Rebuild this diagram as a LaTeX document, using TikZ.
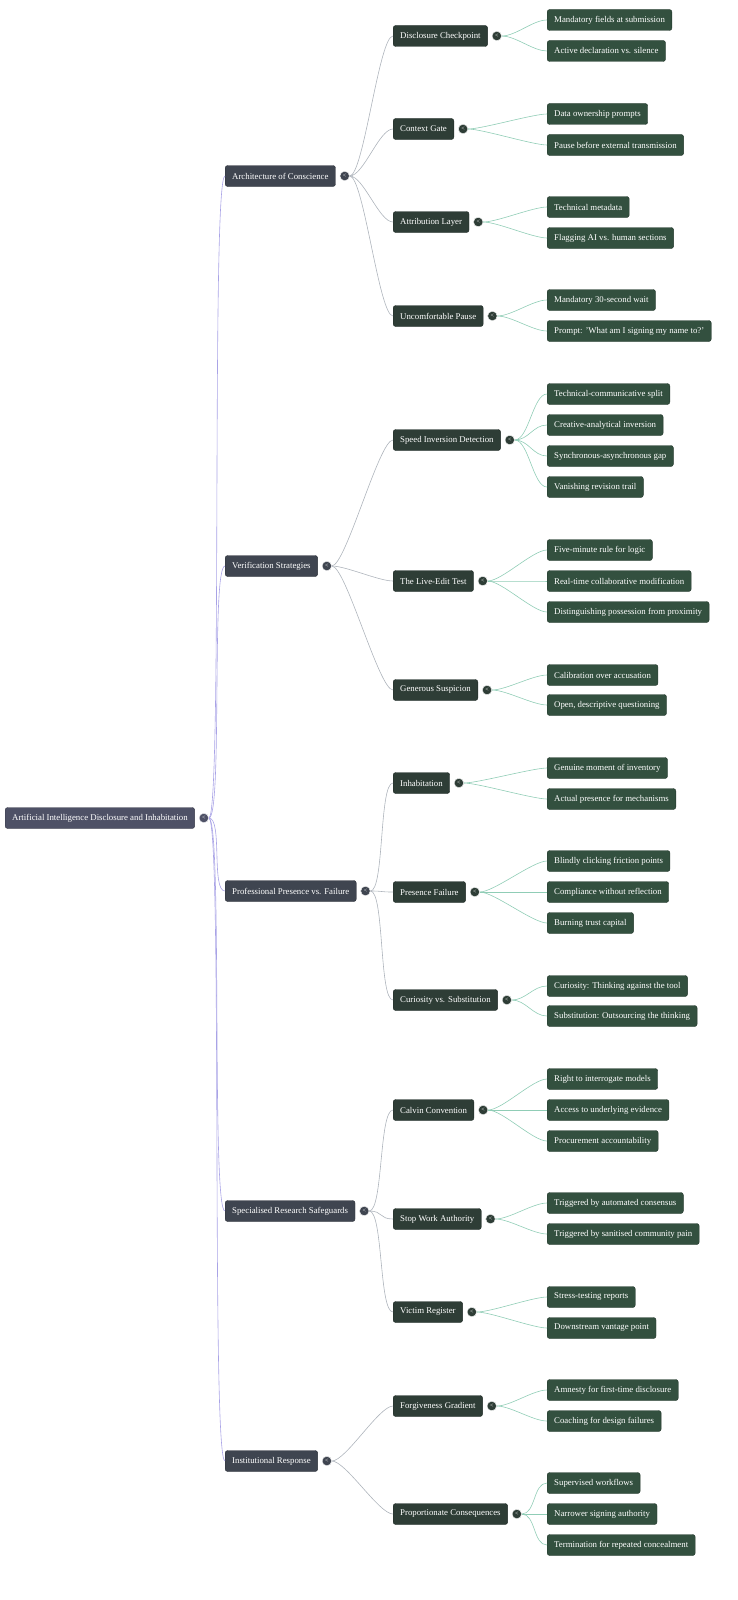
\documentclass[tikz,border=0pt]{standalone}
\usepackage{fontspec}
\setmainfont{Liberation Serif}
\begin{document}
\begin{tikzpicture}[x=1pt,y=-1pt,
 base/.style={rounded corners=2.5pt,text=white,font=\fontsize{8.8}{10}\selectfont,inner xsep=7pt,minimum height=21pt,anchor=west,draw=#1!70!black,fill=#1},
 r/.style={base=rootc},
 a/.style={base=lonec},
 b/.style={base=ltwoc},
 c/.style={base=lthreec},
 tog/.style={circle,fill=#1,draw=white,line width=0.4pt,inner sep=0pt,minimum size=9.5pt,font=\fontsize{6}{6}\selectfont,text=white},
 e1/.style={draw=edgeA,line width=0.6pt},
 e2/.style={draw=edgeB,line width=0.6pt},
 e3/.style={draw=edgeC,line width=0.6pt}]
\definecolor{rootc}{HTML}{4E5166}
\definecolor{lonec}{HTML}{3F4550}
\definecolor{ltwoc}{HTML}{2E3D36}
\definecolor{lthreec}{HTML}{33503F}
\definecolor{edgeA}{HTML}{A9A3E6}
\definecolor{edgeB}{HTML}{AEB4BC}
\definecolor{edgeC}{HTML}{90CDB6}
\useasboundingbox (0,0) rectangle (738,1600);
\newcommand\conn[3]{\draw[#1] (#2.east) .. controls ([xshift=14pt]#2.east) and ([xshift=-14pt]#3.west) .. (#3.west);}
\node[r] (R) at (5,818) {Artificial Intelligence Disclosure and Inhabitation};
\node[tog=rootc] (tR) at ([xshift=9pt]R.east) {<};
% level 1
\node[a] (A1) at (225,176) {Architecture of Conscience};
\node[a] (A2) at (225,566) {Verification Strategies};
\node[a] (A3) at (225,891) {Professional Presence vs. Failure};
\node[a] (A4) at (225,1211) {Specialised Research Safeguards};
\node[a] (A5) at (225,1461) {Institutional Response};
\foreach \n in {A1,A2,A3,A4,A5}{
 \node[tog=lonec] (t\n) at ([xshift=9pt]\n.east) {<};
 \conn{e1}{tR}{\n}}
% level 2
\node[b] (B1) at (393,36) {Disclosure Checkpoint};
\node[b] (B2) at (393,129) {Context Gate};
\node[b] (B3) at (393,222) {Attribution Layer};
\node[b] (B4) at (393,316) {Uncomfortable Pause};
\node[b] (B5) at (393,440) {Speed Inversion Detection};
\node[b] (B6) at (393,581) {The Live-Edit Test};
\node[b] (B7) at (393,690) {Generous Suspicion};
\node[b] (B8) at (393,783) {Inhabitation};
\node[b] (B9) at (393,892) {Presence Failure};
\node[b] (B10) at (393,1000) {Curiosity vs. Substitution};
\node[b] (B11) at (393,1110) {Calvin Convention};
\node[b] (B12) at (393,1219) {Stop Work Authority};
\node[b] (B13) at (393,1312) {Victim Register};
\node[b] (B14) at (393,1406) {Forgiveness Gradient};
\node[b] (B15) at (393,1514) {Proportionate Consequences};
\foreach \p/\n in {A1/B1,A1/B2,A1/B3,A1/B4,A2/B5,A2/B6,A2/B7,A3/B8,A3/B9,A3/B10,A4/B11,A4/B12,A4/B13,A5/B14,A5/B15}{
 \conn{e2}{t\p}{\n}}
\foreach \n in {B1,B2,B3,B4,B5,B6,B7,B8,B9,B10,B11,B12,B13,B14,B15}{
 \node[tog=ltwoc] (t\n) at ([xshift=9pt]\n.east) {<};}
% level 3
\node[c] (C1) at (547,20) {Mandatory fields at submission};
\node[c] (C2) at (547,51) {Active declaration vs. silence};
\node[c] (C3) at (547,114) {Data ownership prompts};
\node[c] (C4) at (547,145) {Pause before external transmission};
\node[c] (C5) at (547,207) {Technical metadata};
\node[c] (C6) at (547,238) {Flagging AI vs. human sections};
\node[c] (C7) at (547,300) {Mandatory 30-second wait};
\node[c] (C8) at (547,331) {Prompt: 'What am I signing my name to?'};
\node[c] (C9) at (547,394) {Technical-communicative split};
\node[c] (C10) at (547,425) {Creative-analytical inversion};
\node[c] (C11) at (547,456) {Synchronous-asynchronous gap};
\node[c] (C12) at (547,487) {Vanishing revision trail};
\node[c] (C13) at (547,550) {Five-minute rule for logic};
\node[c] (C14) at (547,581) {Real-time collaborative modification};
\node[c] (C15) at (547,612) {Distinguishing possession from proximity};
\node[c] (C16) at (547,675) {Calibration over accusation};
\node[c] (C17) at (547,705) {Open, descriptive questioning};
\node[c] (C18) at (547,768) {Genuine moment of inventory};
\node[c] (C19) at (547,799) {Actual presence for mechanisms};
\node[c] (C20) at (547,861) {Blindly clicking friction points};
\node[c] (C21) at (547,892) {Compliance without reflection};
\node[c] (C22) at (547,923) {Burning trust capital};
\node[c] (C23) at (547,986) {Curiosity: Thinking against the tool};
\node[c] (C24) at (547,1016) {Substitution: Outsourcing the thinking};
\node[c] (C25) at (547,1079) {Right to interrogate models};
\node[c] (C26) at (547,1110) {Access to underlying evidence};
\node[c] (C27) at (547,1141) {Procurement accountability};
\node[c] (C28) at (547,1203) {Triggered by automated consensus};
\node[c] (C29) at (547,1234) {Triggered by sanitised community pain};
\node[c] (C30) at (547,1297) {Stress-testing reports};
\node[c] (C31) at (547,1328) {Downstream vantage point};
\node[c] (C32) at (547,1390) {Amnesty for first-time disclosure};
\node[c] (C33) at (547,1421) {Coaching for design failures};
\node[c] (C34) at (547,1483) {Supervised workflows};
\node[c] (C35) at (547,1514) {Narrower signing authority};
\node[c] (C36) at (547,1545) {Termination for repeated concealment};
\foreach \p/\n in {B1/C1,B1/C2,B2/C3,B2/C4,B3/C5,B3/C6,B4/C7,B4/C8,B5/C9,B5/C10,B5/C11,B5/C12,B6/C13,B6/C14,B6/C15,B7/C16,B7/C17,B8/C18,B8/C19,B9/C20,B9/C21,B9/C22,B10/C23,B10/C24,B11/C25,B11/C26,B11/C27,B12/C28,B12/C29,B13/C30,B13/C31,B14/C32,B14/C33,B15/C34,B15/C35,B15/C36}{
 \conn{e3}{t\p}{\n}}
\foreach \n in {B1,B2,B3,B4,B5,B6,B7,B8,B9,B10,B11,B12,B13,B14,B15}{\node[tog=ltwoc] at (t\n) {<};}
\foreach \n in {A1,A2,A3,A4,A5}{\node[tog=lonec] at (t\n) {<};}
\node[tog=rootc] at (tR) {<};
\end{tikzpicture}
\end{document}
